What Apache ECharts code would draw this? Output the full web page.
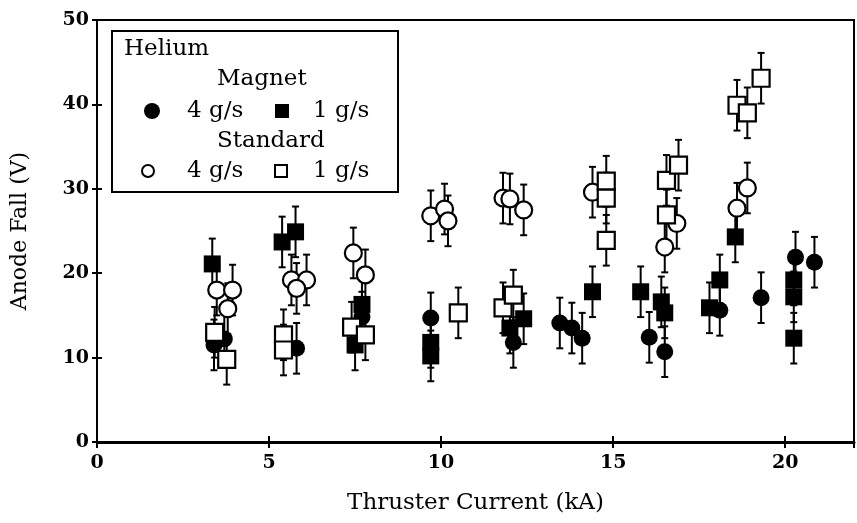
<!DOCTYPE html>
<html>
<head>
<meta charset="utf-8">
<script src="https://cdn.jsdelivr.net/npm/echarts@6/dist/echarts.min.js"></script>
<style>
html,body{margin:0;padding:0;background:#fff;}
#chart{width:857px;height:523px;}
</style>
</head>
<body>
<div id="chart"></div>
<script>
// ---- data (Thruster current kA, Anode fall V) ----
const magnet4 = [ // filled circles
  [3.4,11.5],[3.7,12.2],[5.8,11.1],[7.7,14.8],[9.7,14.7],[12.1,11.8],
  [13.45,14.1],[13.8,13.5],[14.1,12.3],[16.05,12.4],[16.5,10.7],
  [18.1,15.6],[19.3,17.1],[20.3,21.9],[20.85,21.3]
];
const magnet1 = [ // filled squares
  [3.35,21.1],[5.38,23.7],[5.77,24.9],[7.7,16.3],[7.5,11.5],[9.7,11.8],[9.7,10.2],
  [12.0,13.5],[12.4,14.6],[14.4,17.8],[15.8,17.8],[16.4,16.6],[16.5,15.3],
  [18.1,19.2],[17.8,15.9],[18.55,24.3],[20.25,19.2],[20.25,17.2],[20.25,12.3]
];
const standard4 = [ // open circles
  [3.48,18.0],[3.94,18.0],[3.8,15.8],[5.65,19.2],[6.09,19.2],[5.8,18.2],
  [7.45,22.4],[7.8,19.8],[9.7,26.8],[10.1,27.6],[10.2,26.2],
  [11.8,28.9],[12.0,28.8],[12.4,27.5],[14.4,29.6],[16.85,25.9],[16.5,23.1],
  [18.9,30.1],[18.6,27.7]
];
const standard1 = [ // open squares
  [3.42,13.0],[3.77,9.8],[5.42,12.7],[5.42,10.9],[7.4,13.6],[7.8,12.7],
  [10.5,15.3],[11.8,15.9],[12.1,17.4],[14.8,30.9],[14.8,28.9],[14.8,23.9],
  [16.55,31.0],[16.9,32.8],[16.55,26.9],[18.6,39.9],[18.9,39.0],[19.3,43.1]
];
const errorHalf = 3; // V, error bar half-length
const xTickLabels = ['0','5','10','15','20'];
const yTickLabels = ['0','10','20','30','40','50'];

const FONT = 'DejaVu Serif';
const chart = echarts.init(document.getElementById('chart'), null, {renderer:'canvas'});

const allPts = magnet4.concat(magnet1, standard4, standard1);

function errItem(params, api){
  const x = api.value(0), y = api.value(1);
  const t = api.coord([x, y + errorHalf]);
  const b = api.coord([x, y - errorHalf]);
  const cw = 3.5;
  const st = {stroke:'#000', lineWidth:2};
  return {type:'group', children:[
    {type:'line', shape:{x1:t[0],y1:t[1],x2:b[0],y2:b[1]}, style:st},
    {type:'line', shape:{x1:t[0]-cw,y1:t[1],x2:t[0]+cw,y2:t[1]}, style:st},
    {type:'line', shape:{x1:b[0]-cw,y1:b[1],x2:b[0]+cw,y2:b[1]}, style:st}
  ]};
}

const axisCommonX = {min:0, max:22, interval:5};
const axisCommonY = {min:0, max:50, interval:10};

const lbl = (x,y,text,size,align) => ({type:'text', style:{x:x, y:y, text:text, font: size+'px "'+FONT+'"', fill:'#000', textAlign:align||'left', textVerticalAlign:'middle'}, z:100});

chart.setOption({
  animation:false,
  backgroundColor:'#fff',
  grid:{left:97, right:2, top:20, bottom:81, show:true, borderColor:'#000', borderWidth:2, backgroundColor:'transparent'},
  xAxis:[
    Object.assign({type:'value', position:'bottom',
      name:'Thruster Current (kA)', nameLocation:'middle', nameGap:50,
      nameTextStyle:{fontFamily:FONT, fontSize:23, color:'#000'},
      axisLine:{show:true, lineStyle:{color:'#000', width:3}},
      axisTick:{show:true, inside:false, length:6, lineStyle:{color:'#000', width:2}},
      axisLabel:{show:true, margin:12, fontFamily:FONT, fontSize:19, fontWeight:'bold', color:'#000',
        formatter:(v)=> xTickLabels.indexOf(String(v))>=0 ? String(v) : ''},
      splitLine:{show:false}}, axisCommonX),
    Object.assign({type:'value', position:'bottom', offset:0,
      axisLine:{show:false}, axisTick:{show:true, inside:true, length:6, lineStyle:{color:'#000', width:2}},
      axisLabel:{show:false}, splitLine:{show:false}}, axisCommonX)
  ],
  yAxis:[
    Object.assign({type:'value', position:'left',
      name:'Anode Fall (V)', nameLocation:'middle', nameGap:66, nameRotate:90,
      nameTextStyle:{fontFamily:FONT, fontSize:22, color:'#000'},
      axisLine:{show:true, lineStyle:{color:'#000', width:2}},
      axisTick:{show:true, inside:false, length:5, lineStyle:{color:'#000', width:2}},
      axisLabel:{show:true, margin:8, fontFamily:FONT, fontSize:19, fontWeight:'bold', color:'#000',
        formatter:(v)=> yTickLabels.indexOf(String(v))>=0 ? String(v) : ''},
      splitLine:{show:false}}, axisCommonY),
    Object.assign({type:'value', position:'left', offset:0,
      axisLine:{show:false}, axisTick:{show:true, inside:true, length:5, lineStyle:{color:'#000', width:2}},
      axisLabel:{show:false}, splitLine:{show:false}}, axisCommonY)
  ],
  series:[
    {type:'custom', renderItem:errItem, data:allPts, z:1, silent:true},
    {type:'scatter', name:'Magnet 4 g/s', data:magnet4, symbol:'circle', symbolSize:17,
      itemStyle:{color:'#000', opacity:1}, z:2},
    {type:'scatter', name:'Magnet 1 g/s', data:magnet1, symbol:'rect', symbolSize:17,
      itemStyle:{color:'#000', opacity:1}, z:2},
    {type:'scatter', name:'Standard 4 g/s', data:standard4, symbol:'circle', symbolSize:17,
      itemStyle:{color:'#fff', borderColor:'#000', borderWidth:2.2, opacity:1}, z:3},
    {type:'scatter', name:'Standard 1 g/s', data:standard1, symbol:'rect', symbolSize:17,
      itemStyle:{color:'#fff', borderColor:'#000', borderWidth:2.2, opacity:1}, z:3}
  ],
  graphic:[
    {type:'rect', shape:{x:112, y:31, width:286, height:161}, style:{fill:'#fff', stroke:'#000', lineWidth:2}, z:90},
    lbl(124, 49, 'Helium', 23),
    lbl(217, 79, 'Magnet', 23),
    {type:'circle', shape:{cx:152, cy:111, r:8}, style:{fill:'#000'}, z:100},
    lbl(187, 111, '4 g/s', 23),
    {type:'rect', shape:{x:275, y:104, width:14, height:14}, style:{fill:'#000'}, z:100},
    lbl(313, 111, '1 g/s', 23),
    lbl(217, 141, 'Standard', 23),
    {type:'circle', shape:{cx:148, cy:171, r:6}, style:{fill:'#fff', stroke:'#000', lineWidth:2}, z:100},
    lbl(187, 171, '4 g/s', 23),
    {type:'rect', shape:{x:275, y:165, width:12, height:12}, style:{fill:'#fff', stroke:'#000', lineWidth:2}, z:100},
    lbl(313, 171, '1 g/s', 23)
  ]
});
</script>
</body>
</html>
